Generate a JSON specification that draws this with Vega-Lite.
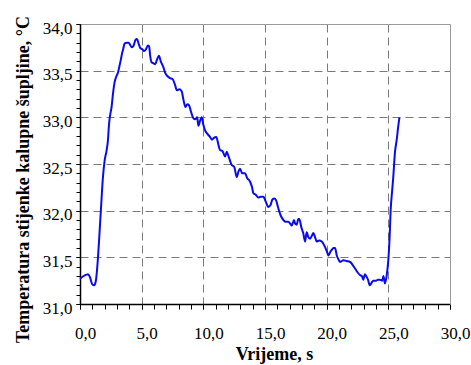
{
  "$schema": "https://vega.github.io/schema/vega-lite/v6.json",
  "autosize": {"type": "none"},
  "width": 370,
  "height": 280,
  "padding": {"left": 80, "top": 24, "right": 21, "bottom": 61},
  "background": "white",
  "config": {"view": {"stroke": null}},
  "data": {
    "values": [
      {"t": 0.0, "T": 31.27}, {"t": 0.3, "T": 31.3}, {"t": 0.65, "T": 31.32}, {"t": 0.8, "T": 31.29},
      {"t": 1.0, "T": 31.21}, {"t": 1.15, "T": 31.2}, {"t": 1.3, "T": 31.26}, {"t": 1.46, "T": 31.5},
      {"t": 1.6, "T": 31.8}, {"t": 1.7, "T": 32.02}, {"t": 1.86, "T": 32.36}, {"t": 2.0, "T": 32.54},
      {"t": 2.15, "T": 32.64}, {"t": 2.27, "T": 32.76}, {"t": 2.35, "T": 32.92}, {"t": 2.45, "T": 33.03},
      {"t": 2.55, "T": 33.1}, {"t": 2.68, "T": 33.26}, {"t": 2.81, "T": 33.38}, {"t": 2.95, "T": 33.44},
      {"t": 3.08, "T": 33.48}, {"t": 3.2, "T": 33.55}, {"t": 3.3, "T": 33.61}, {"t": 3.4, "T": 33.68},
      {"t": 3.5, "T": 33.73}, {"t": 3.62, "T": 33.79}, {"t": 3.8, "T": 33.8}, {"t": 3.95, "T": 33.8},
      {"t": 4.05, "T": 33.78}, {"t": 4.2, "T": 33.75}, {"t": 4.35, "T": 33.77}, {"t": 4.5, "T": 33.83},
      {"t": 4.62, "T": 33.84}, {"t": 4.75, "T": 33.79}, {"t": 4.9, "T": 33.74}, {"t": 5.05, "T": 33.73},
      {"t": 5.2, "T": 33.71}, {"t": 5.35, "T": 33.73}, {"t": 5.5, "T": 33.77}, {"t": 5.6, "T": 33.76},
      {"t": 5.7, "T": 33.65}, {"t": 5.8, "T": 33.59}, {"t": 5.95, "T": 33.58}, {"t": 6.1, "T": 33.57},
      {"t": 6.25, "T": 33.62}, {"t": 6.4, "T": 33.66}, {"t": 6.55, "T": 33.6}, {"t": 6.75, "T": 33.54},
      {"t": 6.9, "T": 33.48}, {"t": 7.1, "T": 33.44}, {"t": 7.3, "T": 33.42}, {"t": 7.5, "T": 33.41},
      {"t": 7.7, "T": 33.35}, {"t": 7.85, "T": 33.29}, {"t": 8.05, "T": 33.3}, {"t": 8.24, "T": 33.28},
      {"t": 8.4, "T": 33.18}, {"t": 8.55, "T": 33.11}, {"t": 8.7, "T": 33.14}, {"t": 8.84, "T": 33.13},
      {"t": 9.0, "T": 33.06}, {"t": 9.19, "T": 32.99}, {"t": 9.35, "T": 32.98}, {"t": 9.5, "T": 33.0},
      {"t": 9.6, "T": 32.91}, {"t": 9.75, "T": 32.97}, {"t": 9.87, "T": 33.0}, {"t": 10.0, "T": 32.92},
      {"t": 10.14, "T": 32.86}, {"t": 10.35, "T": 32.82}, {"t": 10.54, "T": 32.79}, {"t": 10.7, "T": 32.76},
      {"t": 10.85, "T": 32.78}, {"t": 11.05, "T": 32.79}, {"t": 11.2, "T": 32.72}, {"t": 11.35, "T": 32.65},
      {"t": 11.55, "T": 32.64}, {"t": 11.76, "T": 32.58}, {"t": 11.9, "T": 32.63}, {"t": 12.05, "T": 32.58},
      {"t": 12.3, "T": 32.49}, {"t": 12.5, "T": 32.47}, {"t": 12.71, "T": 32.36}, {"t": 12.85, "T": 32.42},
      {"t": 12.97, "T": 32.45}, {"t": 13.15, "T": 32.4}, {"t": 13.38, "T": 32.4}, {"t": 13.55, "T": 32.35},
      {"t": 13.79, "T": 32.31}, {"t": 13.95, "T": 32.25}, {"t": 14.05, "T": 32.19}, {"t": 14.25, "T": 32.17},
      {"t": 14.46, "T": 32.14}, {"t": 14.65, "T": 32.15}, {"t": 14.87, "T": 32.15}, {"t": 15.05, "T": 32.1},
      {"t": 15.27, "T": 32.04}, {"t": 15.45, "T": 32.06}, {"t": 15.6, "T": 32.12}, {"t": 15.75, "T": 32.13},
      {"t": 15.9, "T": 32.11}, {"t": 16.05, "T": 32.04}, {"t": 16.16, "T": 31.99}, {"t": 16.3, "T": 31.94},
      {"t": 16.49, "T": 31.9}, {"t": 16.7, "T": 31.88}, {"t": 16.89, "T": 31.88}, {"t": 17.05, "T": 31.86},
      {"t": 17.17, "T": 31.84}, {"t": 17.35, "T": 31.9}, {"t": 17.45, "T": 31.86}, {"t": 17.57, "T": 31.85},
      {"t": 17.7, "T": 31.91}, {"t": 17.78, "T": 31.91}, {"t": 17.95, "T": 31.82}, {"t": 18.1, "T": 31.76},
      {"t": 18.25, "T": 31.67}, {"t": 18.38, "T": 31.77}, {"t": 18.5, "T": 31.72}, {"t": 18.65, "T": 31.7},
      {"t": 18.8, "T": 31.73}, {"t": 18.92, "T": 31.76}, {"t": 19.05, "T": 31.72}, {"t": 19.19, "T": 31.67},
      {"t": 19.4, "T": 31.68}, {"t": 19.6, "T": 31.67}, {"t": 19.75, "T": 31.64}, {"t": 19.87, "T": 31.61},
      {"t": 20.0, "T": 31.57}, {"t": 20.14, "T": 31.52}, {"t": 20.3, "T": 31.56}, {"t": 20.41, "T": 31.58},
      {"t": 20.55, "T": 31.6}, {"t": 20.68, "T": 31.6}, {"t": 20.82, "T": 31.52}, {"t": 20.95, "T": 31.48},
      {"t": 21.08, "T": 31.45}, {"t": 21.22, "T": 31.46}, {"t": 21.35, "T": 31.47}, {"t": 21.6, "T": 31.46},
      {"t": 21.9, "T": 31.45}, {"t": 22.1, "T": 31.42}, {"t": 22.3, "T": 31.38}, {"t": 22.5, "T": 31.34},
      {"t": 22.7, "T": 31.31}, {"t": 22.85, "T": 31.3}, {"t": 22.97, "T": 31.26}, {"t": 23.1, "T": 31.32},
      {"t": 23.2, "T": 31.3}, {"t": 23.35, "T": 31.26}, {"t": 23.5, "T": 31.2}, {"t": 23.65, "T": 31.23},
      {"t": 23.78, "T": 31.25}, {"t": 24.0, "T": 31.25}, {"t": 24.15, "T": 31.26}, {"t": 24.32, "T": 31.26},
      {"t": 24.5, "T": 31.25}, {"t": 24.6, "T": 31.3}, {"t": 24.73, "T": 31.22}, {"t": 24.86, "T": 31.3},
      {"t": 25.0, "T": 31.47}, {"t": 25.1, "T": 31.7}, {"t": 25.19, "T": 32.01}, {"t": 25.3, "T": 32.2},
      {"t": 25.4, "T": 32.36}, {"t": 25.54, "T": 32.63}, {"t": 25.68, "T": 32.76}, {"t": 25.8, "T": 32.9},
      {"t": 25.9, "T": 33.0}
    ]
  },
  "resolve": {"scale": {"x": "shared", "y": "shared"}, "axis": {"x": "independent", "y": "independent"}},
  "layer": [
    {
      "mark": {"type": "line", "strokeOpacity": 0},
      "encoding": {
        "x": {
          "field": "t", "type": "quantitative",
          "scale": {"domain": [0, 30], "nice": false, "zero": false},
          "axis": {"orient": "bottom", "title": null, "values": [5, 10, 15, 20, 25], "labels": false, "ticks": false, "domain": false,
                   "grid": true, "gridColor": "#7a7a7a", "gridDash": [8, 5], "gridWidth": 1, "gridOpacity": 1}
        },
        "y": {
          "field": "T", "type": "quantitative",
          "scale": {"domain": [31, 34], "nice": false, "zero": false},
          "axis": {"orient": "left", "title": null, "values": [31.5, 32, 32.5, 33, 33.5], "labels": false, "ticks": false, "domain": false,
                   "grid": true, "gridColor": "#7a7a7a", "gridDash": [8, 5], "gridWidth": 1, "gridOpacity": 1}
        }
      }
    },
    {
      "mark": {"type": "line", "strokeOpacity": 0},
      "encoding": {
        "x": {
          "field": "t", "type": "quantitative",
          "axis": {"orient": "top", "title": null, "labels": false, "ticks": false, "grid": false,
                   "domain": true, "domainColor": "#999999", "domainWidth": 1}
        },
        "y": {
          "field": "T", "type": "quantitative",
          "axis": {"orient": "right", "title": null, "labels": false, "ticks": false, "grid": false,
                   "domain": true, "domainColor": "#999999", "domainWidth": 1}
        }
      }
    },
    {
      "mark": {"type": "line", "strokeOpacity": 0},
      "encoding": {
        "x": {
          "field": "t", "type": "quantitative",
          "axis": {"orient": "bottom", "title": null,
                   "values": [0,1,2,3,4,5,6,7,8,9,10,11,12,13,14,15,16,17,18,19,20,21,22,23,24,25,26,27,28,29,30],
                   "labels": false, "grid": false, "domain": false, "tickSize": 5, "tickColor": "black", "tickWidth": 1}
        },
        "y": {
          "field": "T", "type": "quantitative",
          "axis": {"orient": "left", "title": null,
                   "values": [31,31.1,31.2,31.3,31.4,31.5,31.6,31.7,31.8,31.9,32,32.1,32.2,32.3,32.4,32.5,32.6,32.7,32.8,32.9,33,33.1,33.2,33.3,33.4,33.5,33.6,33.7,33.8,33.9,34],
                   "labels": false, "grid": false, "domain": false, "tickSize": 4, "tickColor": "black", "tickWidth": 1}
        }
      }
    },
    {
      "mark": {"type": "line", "color": "#0a0af0", "strokeWidth": 2, "interpolate": "monotone"},
      "encoding": {
        "x": {
          "field": "t", "type": "quantitative",
          "axis": {
            "orient": "bottom",
            "title": "Vrijeme, s",
            "titleFont": "Liberation Serif", "titleFontSize": 18, "titleFontWeight": "bold", "titleColor": "black",
            "titleX": 194, "titlePadding": 4,
            "values": [0, 5, 10, 15, 20, 25, 30],
            "labelExpr": "replace(format(datum.value, '.1f'), '.', ',')",
            "labelFont": "Liberation Serif", "labelFontSize": 17, "labelColor": "black",
            "labelOverlap": false, "labelFlush": false, "labelOffset": 5, "labelPadding": 16,
            "tickSize": 5, "tickColor": "black", "tickWidth": 1,
            "domainColor": "black", "domainWidth": 1.5, "grid": false
          }
        },
        "y": {
          "field": "T", "type": "quantitative",
          "axis": {
            "orient": "left",
            "title": "Temperatura stijenke kalupne šupljine, °C",
            "titleFont": "Liberation Serif", "titleFontSize": 18, "titleFontWeight": "bold", "titleColor": "black",
            "titleY": 155, "titlePadding": 10,
            "values": [31, 31.5, 32, 32.5, 33, 33.5, 34],
            "labelExpr": "replace(format(datum.value, '.1f'), '.', ',')",
            "labelFont": "Liberation Serif", "labelFontSize": 17, "labelColor": "black",
            "labelOverlap": false, "labelFlush": false, "labelOffset": 4, "labelPadding": 4,
            "tickSize": 4, "tickColor": "black", "tickWidth": 1,
            "domainColor": "black", "domainWidth": 1.5, "grid": false
          }
        }
      }
    }
  ]
}
